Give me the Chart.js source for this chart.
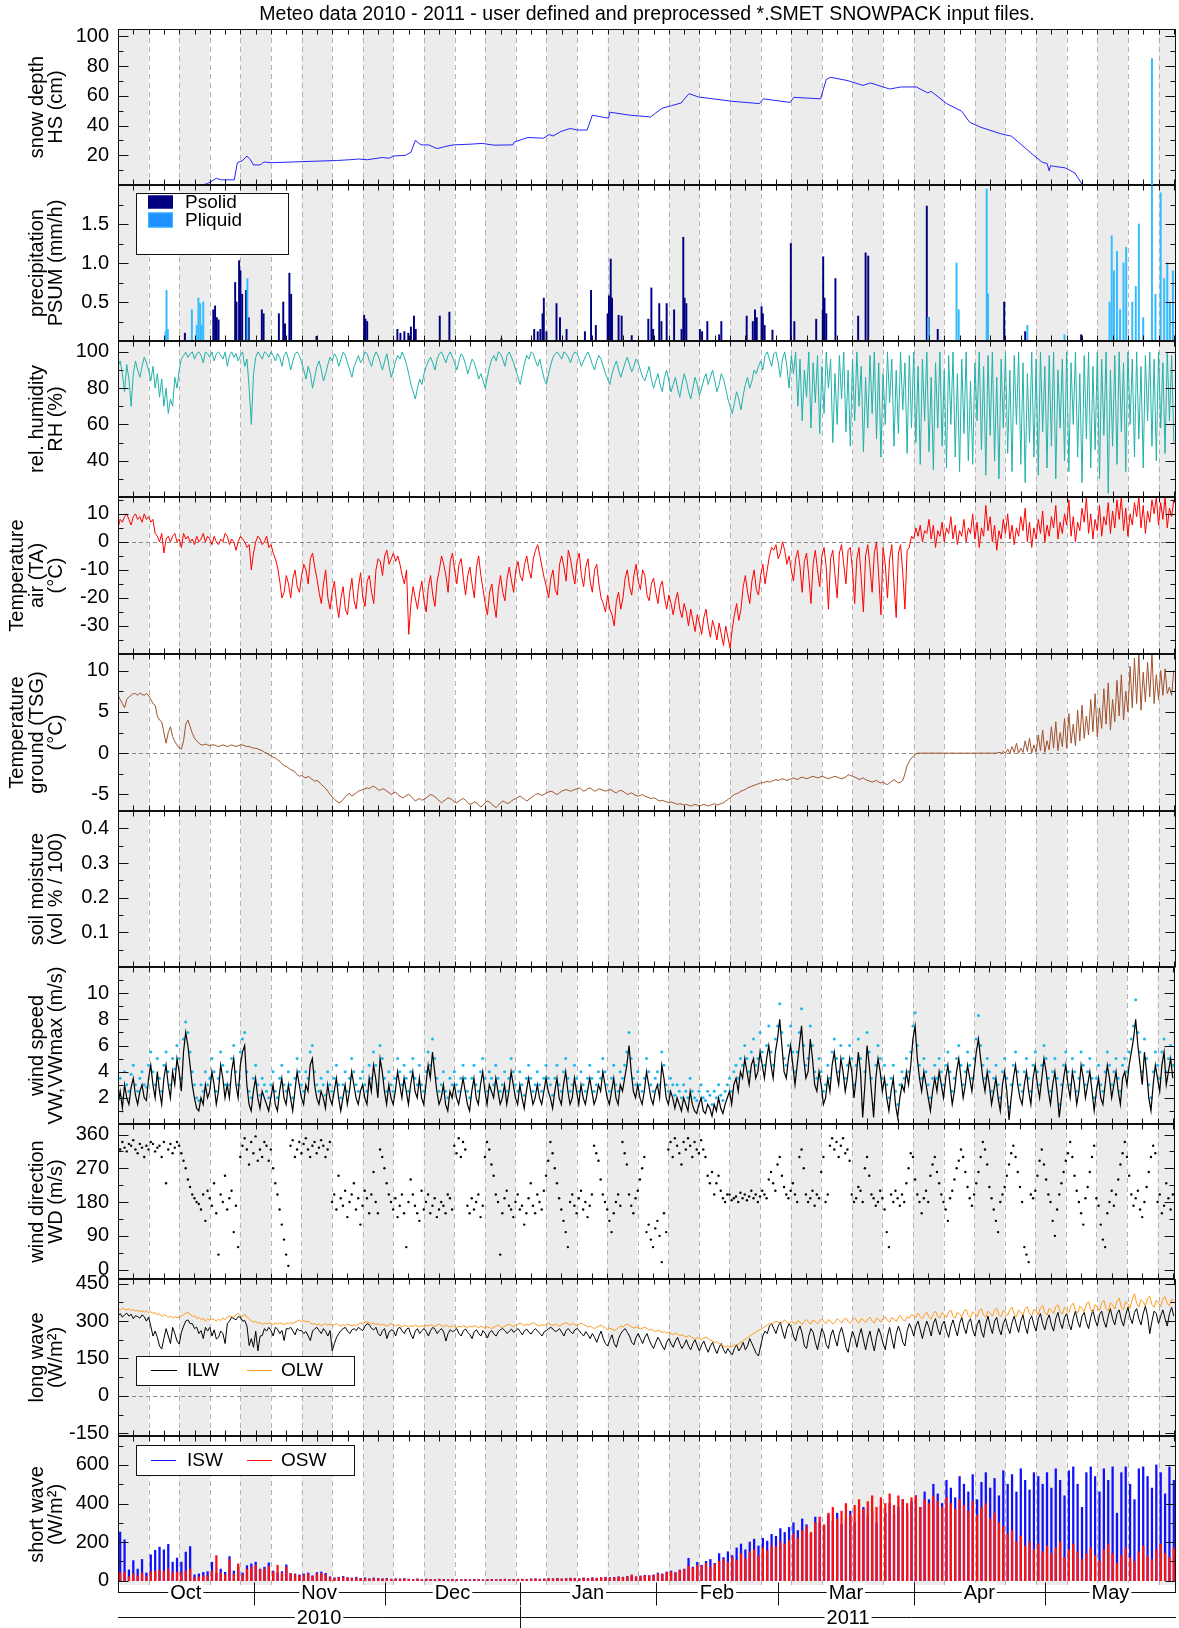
<!DOCTYPE html>
<html>
<head>
<meta charset="utf-8">
<title>Meteo data 2010 - 2011</title>
<script src="https://cdn.jsdelivr.net/npm/chart.js@4"></script>
<style>
  body { margin: 0; background: #ffffff; }
  #wrap { position: relative; width: 1179px; height: 1628px; }
  #wrap canvas { position: absolute; left: 0; top: 0; }
</style>
</head>
<body>
<div id="wrap"></div>
<script>
// Time axis: days since 1 Oct 2010, half-day samples for the hourly-ish series
const DAY_MAX = 242;
const HALF_DAY = 0.5;
const MONTHS = ['Oct', 'Nov', 'Dec', 'Jan', 'Feb', 'Mar', 'Apr', 'May'];
const MONTH_STARTS = [0, 31, 61, 92, 123, 151, 182, 212, 242];
const YEARS = ['2010', '2011'];
const YEAR_STARTS = [0, 92, 242];
const TITLE = 'Meteo data 2010 - 2011 - user defined and preprocessed *.SMET SNOWPACK input files.';

// Snow depth HS (cm), breakpoints
const hsDay = [19.8, 20.5, 22.5, 23.5, 26.6, 27.3, 28.5, 29.5, 30.3, 31, 32.5, 33.4, 35, 40, 45, 50, 53, 55, 57, 60.5,
  62, 63, 65.8, 67, 68, 69.3, 71, 73, 75, 76.7, 80.7, 83.3, 86, 90.3, 90.7, 93.8, 97.3, 98.6, 99.5, 101.3,
  103.4, 105.2, 107.3, 108.5, 110.2, 112.2, 112.5, 117, 121.8, 123, 124.4, 126.6, 128.8, 130.6, 132.8, 140.6, 146.7, 147.6, 153.7, 154.6,
  160.7, 162, 163, 167, 170.4, 172.1, 176.5, 179.1, 182.6, 185.2, 186, 189.6, 193, 194.8, 197.4, 201.8, 204.4, 208.8, 211.4, 212.5,
  213, 213.3, 214, 216.7, 218.9, 220.6];
const hsCm = [0.5, 1, 4.5, 3.5, 3.5, 15, 16.5, 19.5, 17, 13.5, 13.5, 15.5, 15, 15.5, 16, 16.5, 17, 17.5, 17, 18.5,
  18, 19.5, 20, 22, 30, 27, 27, 24.5, 26, 27, 27.5, 28, 26.8, 27, 29, 32, 31.5, 34, 33, 36,
  38, 37, 37, 47, 46, 45, 49, 47, 45.8, 48.5, 51.6, 53.4, 55.2, 61.5, 59.2, 56.3, 54.8, 58, 55.6, 59,
  58, 71, 72.5, 70.2, 67, 68.7, 64.6, 66, 66, 62, 63, 54.7, 49.6, 42.2, 38.8, 34.6, 32.8, 21.6, 15.3, 14.5,
  9.5, 13, 12.6, 11.5, 8, 0];

// Precipitation PSUM (mm/h)
const psolidDay = [15.3, 21.8, 22.2, 22.6, 23.0, 26.8, 27.1, 27.7, 28.0, 28.4, 29.3, 29.9, 32.9, 33.3, 36.8, 37.8, 38.2, 39.2, 39.6, 45.4,
  56.3, 56.6, 57.0, 63.9, 64.6, 65.5, 66.4, 67.0, 67.7, 68.1, 73.6, 75.8, 87.7, 95.2, 96.0, 96.6, 97.1, 97.4, 98.0, 100.3,
  101.1, 102.6, 106.8, 108.2, 109.3, 112.0, 112.3, 112.7, 113.0, 114.5, 115.2, 117.5, 121.3, 122.0, 122.4, 123.8, 124.3, 125.5, 127.2, 128.9,
  129.3, 129.6, 130.0, 133.1, 133.6, 134.8, 137.5, 138.0, 143.8, 145.2, 145.7, 146.1, 147.2, 147.5, 147.9, 149.7, 153.9, 154.7, 159.7, 161.2,
  161.3, 161.6, 162.0, 164.1, 169.3, 171.0, 171.6, 185.0, 185.4, 187.5, 198.9, 202.7, 207.5, 220.3];
const psolidMm = [0.1, 0.4, 0.45, 0.3, 0.27, 0.75, 0.5, 1.03, 0.9, 0.6, 0.65, 0.3, 0.4, 0.35, 0.35, 0.5, 0.22, 0.87, 0.6, 0.06,
  0.33, 0.28, 0.25, 0.15, 0.1, 0.12, 0.1, 0.18, 0.32, 0.15, 0.32, 0.37, 0.03, 0.15, 0.12, 0.15, 0.35, 0.55, 0.12, 0.48,
  0.3, 0.15, 0.12, 0.65, 0.2, 0.35, 0.58, 1.05, 0.55, 0.33, 0.32, 0.07, 0.28, 0.68, 0.15, 0.48, 0.25, 0.48, 0.4, 0.15,
  1.33, 0.55, 0.48, 0.15, 0.12, 0.25, 0.08, 0.25, 0.32, 0.25, 0.4, 0.3, 0.44, 0.35, 0.2, 0.14, 1.25, 0.25, 0.28, 0.4,
  1.08, 0.55, 0.35, 0.8, 0.32, 1.13, 1.09, 1.73, 0.3, 0.15, 0.6, 0.5, 0.12, 0.08];
const pliquidDay = [10.9, 11.1, 11.4, 16.9, 18.0, 18.4, 18.8, 19.1, 19.5, 29.6, 185.3, 191.8, 192.3, 198.7, 199.0, 208.0, 216.5, 226.8, 227.3, 227.8,
  228.5, 229.2, 230.0, 230.6, 232.0, 232.8, 233.5, 234.5, 236.5, 237.3, 238.5, 239.3, 240.0, 240.6, 241.3];
const pliquidMm = [0.12, 0.65, 0.15, 0.4, 0.2, 0.55, 0.48, 0.2, 0.5, 0.8, 0.3, 1.0, 0.4, 1.95, 0.6, 0.2, 0.08, 0.5, 1.35, 0.9,
  1.15, 0.4, 1.0, 1.2, 0.5, 0.7, 1.5, 0.3, 3.62, 0.6, 1.9, 0.8, 1.0, 0.5, 0.9];

// Relative humidity RH (%), every half day
const rhPct = [
  92, 95, 88, 78, 93, 85, 70, 88, 95, 90, 86, 92, 97, 94,
  90, 84, 92, 80, 88, 75, 85, 70, 80, 66, 74, 70, 86, 80,
  90, 96, 98, 100, 97, 99, 100, 96, 99, 100, 98, 94, 100, 99,
  97, 100, 95, 99, 100, 98, 96, 100, 92, 98, 100, 97, 99, 95,
  98, 100, 92, 96, 80, 60, 88, 97, 100, 98, 96, 100, 99, 97,
  100, 98, 95, 99, 97, 92, 98, 100, 96, 90, 95, 99, 100, 98,
  94, 90, 85, 92, 88, 80, 86, 92, 95, 90, 84, 88, 93, 97,
  95, 99, 97, 92, 96, 100, 98, 94, 90, 86, 92, 95, 98, 94,
  96, 100, 99, 95, 92, 97, 100, 98, 94, 90, 95, 99, 92, 86,
  90, 95, 98, 96, 100, 97, 93, 88, 82, 78, 74, 80, 85, 82,
  88, 92, 95, 97, 94, 90, 96, 99, 100, 97, 94, 98, 100, 97,
  94, 90, 95, 99, 97, 93, 88, 92, 96, 94, 90, 85, 88, 84,
  80, 86, 92, 96, 98, 95, 100, 99, 96, 92, 98, 100, 97, 94,
  90, 86, 82, 88, 94, 98, 96, 100, 99, 95, 92, 96, 90, 85,
  82, 88, 93, 97, 99, 100, 98, 96, 100, 99, 97, 94, 98, 100,
  99, 96, 92, 95, 98, 100, 97, 93, 90, 95, 98, 96, 92, 88,
  85, 82, 88, 92, 95, 90, 86, 90, 94, 97, 93, 89, 92, 96,
  94, 90, 86, 84, 88, 92, 85, 80, 84, 88, 82, 78, 86, 90,
  84, 78, 82, 86, 80, 75, 82, 88, 84, 78, 74, 80, 86, 82,
  76, 80, 85, 88, 82, 86, 90, 84, 78, 82, 88, 85, 80, 74,
  70, 66, 72, 78, 74, 68, 76, 82, 86, 80, 84, 90, 88, 92,
  95, 90, 98, 100, 96, 92, 99, 100, 94, 86, 96, 100, 92, 80,
  98, 88, 100, 70, 96, 62, 90, 75, 100, 58, 94, 72, 98, 55,
  92, 66, 100, 80, 96, 50, 88, 60, 98, 74, 100, 56, 90, 48,
  96, 62, 100, 70, 92, 45, 86, 58, 98, 66, 100, 52, 94, 42,
  88, 60, 100, 72, 96, 48, 90, 55, 100, 68, 94, 44, 98, 58,
  100, 50, 92, 38, 96, 62, 100, 45, 86, 35, 94, 58, 100, 48,
  90, 36, 98, 60, 100, 42, 88, 34, 96, 55, 100, 40, 84, 38,
  94, 62, 100, 46, 92, 32, 98, 54, 100, 40, 86, 30, 96, 58,
  100, 44, 90, 34, 98, 60, 100, 38, 94, 28, 88, 50, 100, 42,
  96, 32, 100, 56, 92, 36, 98, 48, 100, 30, 90, 58, 96, 40,
  100, 34, 94, 60, 100, 42, 88, 28, 98, 52, 100, 36, 92, 46,
  100, 30, 96, 54, 100, 22, 90, 48, 98, 38, 100, 56, 94, 34,
  100, 60, 96, 42, 100, 52, 92, 36, 98, 62, 100, 48, 96, 40,
  100, 58, 94, 44, 100, 62, 98, 50
];

// Air temperature TA (deg C), every half day
const taC = [
  5, 8, 7, 9, 10, 8, 6, 9, 10, 8, 9, 7, 10, 8,
  9, 7, 8, 3, 2, 0, 3, -4, 1, 2, 0, 2, 3, 0,
  1, -2, 3, 1, 2, 0, 1, -1, 2, 0, 1, 3, 0, 2,
  1, -1, 2, 0, -1, 1, 0, 3, 2, -1, 1, 0, -3, 0,
  2, 1, 0, -2, -1, -10, -4, 0, 2, 1, -1, 0, 2, -2,
  -1, -4, -6, -9, -14, -20, -18, -12, -15, -20, -13, -10, -16, -18,
  -12, -8, -10, -15, -6, -4, -9, -13, -18, -22, -15, -10, -20, -24,
  -18, -14, -22, -27, -20, -16, -24, -26, -18, -13, -21, -24, -16, -11,
  -20, -23, -14, -12, -18, -22, -10, -6, -7, -12, -5, -3, -8, -6,
  -4, -7, -5, -8, -12, -15, -10, -33, -22, -16, -20, -24, -18, -14,
  -21, -25, -16, -12, -19, -23, -14, -10, -5, -8, -12, -18, -7, -4,
  -10, -15, -8, -6, -13, -19, -12, -9, -15, -20, -9, -5, -12, -17,
  -22, -26, -18, -15, -22, -27, -17, -12, -18, -21, -13, -9, -14, -18,
  -10, -7, -12, -14, -8, -5, -10, -13, -6, -3, -1, -5, -9, -13,
  -16, -20, -13, -10, -17, -19, -8, -5, -9, -14, -3, -6, -11, -15,
  -7, -4, -12, -16, -9, -6, -14, -18, -10, -8, -15, -20, -22, -25,
  -19, -24, -26, -30, -21, -18, -24, -20, -13, -10, -16, -19, -12, -8,
  -14, -17, -10, -12, -19, -21, -15, -13, -18, -22, -16, -14, -20, -24,
  -19, -22, -26, -21, -18, -24, -27, -22, -25, -30, -24, -28, -32, -26,
  -29, -33, -27, -24, -30, -34, -28, -31, -35, -29, -33, -37, -30, -34,
  -38, -31, -26, -22, -28, -24, -16, -12, -18, -22, -14, -10, -17, -19,
  -12, -8, -15, -10, -5, -2, -3, -1, -6, -4, 0, -3, -8, -5,
  -10, -14, -6, -3, -9, -18, -7, -4, -12, -22, -8, -3, -10, -16,
  -5, -2, -9, -24, -6, -3, -12, -20, -4, -1, -8, -15, -3, -2,
  -10, -22, -6, -2, -13, -25, -5, -1, -9, -18, -4, 0, -12, -26,
  -2, -8, -20, -6, -1, -15, -27, -4, -1, -11, -24, -3, -2, 2,
  1, 5, 2, 6, 0, 4, 3, 8, 1, 6, -2, 4, 2, 7,
  0, 5, 3, 9, 1, 6, -1, 4, 2, 8, 0, 5, 3, 10,
  1, 7, -2, 5, 2, 13, 4, 9, 0, 6, -3, 4, 1, 8,
  3, 10, 1, 6, -1, 5, 2, 9, 4, 12, 0, 7, -2, 5,
  1, 8, 3, 11, 0, 6, 2, 9, 5, 13, 1, 7, 3, 10,
  6, 15, 2, 9, 0, 7, 4, 12, 7, 16, 3, 10, 1, 8,
  4, 13, 2, 9, 6, 14, 3, 11, 5, 15, 8, 16, 4, 12,
  2, 10, 6, 14, 9, 16, 5, 13, 3, 11, 7, 15, 10, 16,
  6, 14, 8, 16, 5, 12, 9, 15
];

// Ground temperature TSG (deg C), every half day
const tsgC = [
  7, 6.5, 6, 5.5, 6.5, 6.8, 7, 7.2, 7.2, 7, 7.3, 7.1, 7, 7.2,
  7, 6.5, 6, 5.8, 4.5, 4, 3.8, 2.5, 1.2, 2.5, 3.2, 2, 1.4, 1,
  0.6, 0.5, 1.5, 3.5, 4, 3.2, 2.4, 1.8, 1.5, 1.2, 1, 1, 1.1, 1,
  0.9, 1, 1, 0.9, 0.8, 0.9, 1, 0.9, 0.8, 0.9, 1, 0.9, 0.8, 0.9,
  1, 1, 0.9, 0.8, 0.8, 0.7, 0.6, 0.6, 0.5, 0.4, 0.3, 0.1, 0, -0.2,
  -0.3, -0.5, -0.6, -0.8, -1, -1.3, -1.5, -1.6, -1.8, -2, -2.1, -2.3, -2.6, -2.8,
  -2.7, -2.9, -3, -2.8, -3, -3.2, -3.4, -3.3, -3.5, -3.8, -4, -4.3, -4.6, -5,
  -5.3, -5.6, -5.8, -6, -5.9, -5.6, -5.3, -5, -4.9, -5.2, -5, -4.8, -4.6, -4.5,
  -4.4, -4.3, -4.2, -4.3, -4.1, -4, -4.2, -4.4, -4.5, -4.3, -4.4, -4.6, -4.8, -5,
  -4.8, -4.7, -5, -5.2, -5.4, -5.3, -5.1, -5, -5.2, -5.5, -5.8, -5.6, -5.5, -5.7,
  -5.6, -5.4, -5.2, -5, -5.1, -5.3, -5.5, -5.8, -6, -5.8, -5.6, -5.4, -5.5, -5.7,
  -5.9, -6, -5.8, -5.6, -5.5, -5.7, -6, -6.2, -6.1, -5.9, -6, -6.3, -6.5, -6.3,
  -6, -5.8, -5.9, -6.2, -6.4, -6.6, -6.3, -6, -5.8, -5.9, -6.1, -6, -5.8, -5.6,
  -5.5, -5.3, -5.2, -5.4, -5.6, -5.8, -5.6, -5.4, -5.2, -5, -4.9, -5, -5.1, -5,
  -4.8, -4.7, -4.6, -4.7, -4.9, -5, -4.8, -4.6, -4.5, -4.4, -4.5, -4.6, -4.5, -4.4,
  -4.3, -4.2, -4.4, -4.6, -4.5, -4.3, -4.2, -4.4, -4.6, -4.5, -4.3, -4.4, -4.5, -4.6,
  -4.5, -4.4, -4.5, -4.7, -4.8, -4.6, -4.5, -4.6, -4.8, -5, -4.9, -4.8, -5, -5.1,
  -5.2, -5.1, -5, -5.2, -5.3, -5.4, -5.5, -5.4, -5.5, -5.7, -5.8, -5.7, -5.8, -5.9,
  -6, -5.9, -6, -6.1, -6.2, -6.1, -6.2, -6.3, -6.2, -6.3, -6.4, -6.3, -6.2, -6.3,
  -6.4, -6.3, -6.2, -6.3, -6.4, -6.3, -6.2, -6.1, -6.3, -6.2, -6.1, -6, -5.8, -5.6,
  -5.4, -5.2, -5, -4.9, -4.8, -4.6, -4.5, -4.4, -4.2, -4.1, -4, -3.9, -3.8, -3.7,
  -3.6, -3.6, -3.5, -3.4, -3.5, -3.4, -3.3, -3.2, -3.3, -3.2, -3.1, -3.2, -3.3, -3.2,
  -3.1, -3, -3.1, -3.2, -3, -2.9, -3, -3.1, -3, -2.9, -2.8, -2.9, -3, -2.9,
  -2.8, -2.9, -3, -3.1, -3, -2.9, -2.8, -2.9, -3, -3.1, -3, -2.9, -2.6, -2.7,
  -2.8, -2.9, -3, -3.2, -3.1, -3, -3.2, -3.3, -3.4, -3.5, -3.4, -3.3, -3.5, -3.6,
  -3.5, -3.7, -3.8, -3.6, -3.4, -3.2, -3.4, -3.6, -3.5, -3.3, -2.5, -1.5, -1, -0.6,
  -0.3, -0.1, 0, 0, 0, 0, 0, 0, 0, 0, 0, 0, 0, 0,
  0, 0, 0, 0, 0, 0, 0, 0, 0, 0, 0, 0, 0, 0,
  0, 0, 0, 0, 0, 0, 0, 0, 0, 0, 0, 0.1, 0, 0.2,
  0, 0.5, 0, 0.8, 0.1, 1.2, 0, 0.6, 0.1, 1.5, 0.2, 1.8, 0, 1,
  0.1, 2.2, 0.3, 2.8, 0.1, 1.5, 0.4, 3.2, 0.6, 3.8, 0.3, 2.5, 0.8, 4.2,
  0.6, 4.8, 1.2, 3.5, 0.9, 5.2, 1.5, 5.8, 1.8, 4.5, 2.2, 6.5, 2.6, 7.2,
  2, 5.5, 3, 7.8, 3.5, 8.5, 2.8, 6.5, 3.8, 8.8, 4.5, 9.5, 4, 7.5,
  5, 10.5, 5.5, 11.5, 6, 12, 5.2, 9.8, 6.2, 11, 6.8, 12, 6, 9.5,
  6.5, 10, 7, 10.2, 7.2, 8, 7, 10
];

// Wind speed VW and gusts VWmax (m/s), every half day
const vwMs = [
  1.5, 2.5, 1.2, 3, 2, 1.5, 2.8, 3.5, 2.2, 1.5, 2.5, 3, 2, 1.8,
  3.5, 4.5, 3, 2, 4, 2.5, 1.5, 3.5, 4.5, 3, 2, 4, 3, 5,
  4, 2.5, 5.5, 7, 6, 4.5, 3, 2, 1.2, 1, 2, 1.5, 3, 2,
  2.5, 4, 3, 1.5, 2.5, 4.5, 3.5, 2, 3, 2, 4, 5, 3, 2,
  4.5, 5.5, 6, 3, 1.5, 1, 2.5, 3.5, 2, 1.2, 2.5, 2, 1.5, 1,
  2, 3, 1.5, 1, 2.5, 3.5, 2, 1.5, 3, 2, 1, 2.5, 4, 3,
  2, 1.5, 3, 2.5, 4.5, 5, 3, 2, 1.5, 2.5, 2, 1.2, 3, 2,
  1.5, 2.5, 3.5, 2, 1, 2, 3, 1.5, 2.5, 4, 3, 2, 1.5, 2.5,
  3, 2, 1.5, 3.5, 2.5, 4.5, 3.5, 2, 5, 4, 2.5, 1.5, 3, 2,
  1.5, 2.5, 4, 3, 2, 3.5, 2.5, 1.5, 3, 4, 2.5, 2, 3.5, 2,
  1.5, 3, 4.5, 3.5, 5.5, 4, 2.5, 1.5, 2, 3, 1.5, 1, 2.5, 2,
  3, 2, 1.5, 2.5, 3.5, 2.5, 1.5, 1, 2.5, 3.5, 2, 1.5, 3, 4,
  2.5, 1.5, 3, 2.5, 2, 3.5, 2.5, 1.5, 2, 3, 1.5, 2.5, 4, 3,
  2, 1.5, 3, 2, 1.2, 2.5, 3.5, 2.5, 1.5, 2, 3, 2, 1.5, 2.5,
  3.5, 2.5, 2, 1.2, 2.5, 3.5, 2, 1.5, 3, 4, 2.5, 1.5, 2, 3.5,
  2.5, 1.5, 3, 2, 1.5, 2.5, 3.5, 2.5, 1.5, 2, 3, 2.5, 4, 3,
  2, 1.5, 2.5, 3.5, 2, 1.5, 3, 2.5, 3.5, 4.5, 6, 4, 2.5, 2,
  3, 2, 1.5, 2.5, 4, 3, 2, 1.5, 2.5, 3, 2, 4.5, 3.5, 2,
  1.5, 2.5, 2, 1.2, 2, 1.5, 1, 2, 1.5, 1, 2.5, 1.5, 1, 0.8,
  1.5, 2, 1, 0.8, 1.5, 1.2, 0.6, 1.5, 1, 2, 1.2, 0.8, 1.5, 2,
  2.5, 1.5, 3, 3.5, 2.5, 4, 3.5, 5, 4, 3, 4.5, 5, 3.5, 4,
  5.5, 4.5, 3.5, 5, 6, 4.5, 3.5, 5.5, 6.5, 8, 6, 4, 3.5, 5,
  6, 4.5, 3, 4.5, 6, 7.5, 5, 3.5, 4, 6.5, 5, 3, 2.5, 4,
  3, 1.5, 2, 3.5, 2.5, 4.5, 5.5, 4, 3, 5, 4, 2.5, 3.5, 5,
  4, 2, 3.5, 5.5, 4, 0.5, 3, 6, 4.5, 2.5, 0.5, 3.5, 5, 4,
  2.5, 3.5, 2, 1, 2.5, 3.5, 1.5, 0.5, 2, 3, 2.5, 4, 3, 4.5,
  6.5, 7.5, 5, 3.5, 2.5, 4, 3, 2, 1, 2.5, 3.5, 2.5, 4, 3,
  2, 3.5, 4.5, 3, 1.5, 2.5, 4, 5, 3.5, 2, 3, 4.5, 3.5, 2.5,
  4, 5.5, 6.5, 5, 3.5, 2.5, 4, 3, 1.5, 2.5, 3.5, 2, 1, 3,
  4, 2.5, 0.3, 2, 3.5, 4.5, 3, 2, 1.5, 3, 4, 2.5, 1.5, 3.5,
  4.5, 3, 2, 3.5, 5, 4, 2.5, 1.5, 3, 4, 2.5, 0.5, 2, 3.5,
  4.5, 3, 2, 4, 3, 1.5, 2.5, 4.5, 3.5, 2, 3, 4, 2.5, 1,
  2.5, 3.5, 2, 1.5, 3, 4.5, 3.5, 2, 3, 4, 2.5, 1.5, 3.5, 4,
  3, 4.5, 5.5, 6.5, 8, 6, 4.5, 3, 5.5, 4, 2, 1, 3, 4.5,
  3.5, 2.5, 4.5, 5.5, 3, 4, 5, 3.5
];
const vwMaxMs = [
  2.5, 3.5, 2, 4, 3, 2.5, 3.8, 4.5, 3, 2.5, 3.5, 4, 3, 2.8,
  4.5, 5.5, 4, 3, 5, 3.5, 2.5, 4.5, 5.5, 4, 3, 5, 4.2, 6,
  5, 3.5, 6.5, 7.8, 7, 5.5, 4, 3, 2, 1.8, 3, 2.5, 4, 3,
  3.5, 5, 4, 2.5, 3.5, 5.5, 4.5, 3, 4, 3, 5, 6, 4, 3,
  5.5, 6.5, 7, 4, 2.5, 2, 3.5, 4.5, 3, 2.2, 3.5, 3, 2.5, 2,
  3, 4, 2.5, 2, 3.5, 4.5, 3, 2.5, 4, 3, 2, 3.5, 5, 4,
  3, 2.5, 4, 3.5, 5.5, 6, 4, 3, 2.5, 3.5, 3, 2.2, 4, 3,
  2.5, 3.5, 4.5, 3, 2, 3, 4, 2.5, 3.5, 5, 4, 3, 2.5, 3.5,
  4, 3, 2.5, 4.5, 3.5, 5.5, 4.5, 3, 6, 5, 3.5, 2.5, 4, 3,
  2.5, 3.5, 5, 4, 3, 4.5, 3.5, 2.5, 4, 5, 3.5, 3, 4.5, 3,
  2.5, 4, 5.5, 4.5, 6.5, 5, 3.5, 2.5, 3, 4, 2.5, 2, 3.5, 3,
  4, 3, 2.5, 3.5, 4.5, 3.5, 2.5, 2, 3.5, 4.5, 3, 2.5, 4, 5,
  3.5, 2.5, 4, 3.5, 3, 4.5, 3.5, 2.5, 3, 4, 2.5, 3.5, 5, 4,
  3, 2.5, 4, 3, 2.2, 3.5, 4.5, 3.5, 2.5, 3, 4, 3, 2.5, 3.5,
  4.5, 3.5, 3, 2.2, 3.5, 4.5, 3, 2.5, 4, 5, 3.5, 2.5, 3, 4.5,
  3.5, 2.5, 4, 3, 2.5, 3.5, 4.5, 3.5, 2.5, 3, 4, 3.5, 5, 4,
  3, 2.5, 3.5, 4.5, 3, 2.5, 4, 3.5, 4.5, 5.5, 7, 5, 3.5, 3,
  4, 3, 2.5, 3.5, 5, 4, 3, 2.5, 3.5, 4, 3, 5.5, 4.5, 3,
  2.5, 3.5, 3, 2.2, 3, 2.5, 2, 3, 2.5, 2, 3.5, 2.5, 2, 1.8,
  2.5, 3, 2, 1.8, 2.5, 2.2, 1.5, 2.5, 2, 3, 2.2, 1.8, 2.5, 3,
  3.5, 2.5, 4, 4.5, 3.5, 5, 4.5, 6, 5, 4, 5.5, 6.5, 4.5, 5,
  7, 5.5, 4.5, 6, 7.5, 5.5, 4.5, 6.5, 7.5, 9.2, 7, 5, 4.5, 6,
  7.5, 5.5, 4, 5.5, 7, 8.8, 6, 4.5, 5, 7.5, 6, 4, 3.5, 5,
  4, 2.5, 3, 4.5, 3.5, 5.5, 6.5, 5, 4, 6, 5, 3.5, 4.5, 6,
  5, 3, 4.5, 6.5, 5, 1.5, 4, 7, 5.5, 3.5, 1.5, 4.5, 6, 5,
  3.5, 4.5, 3, 2, 3.5, 4.5, 2.5, 1.5, 3, 4, 3.5, 5, 4, 5.5,
  7.5, 8.5, 6, 4.5, 3.5, 5, 4, 3, 2, 3.5, 4.5, 3.5, 5, 4,
  3, 4.5, 5.5, 4, 2.5, 3.5, 5, 6, 4.5, 3, 4, 5.5, 4.5, 3.5,
  5, 6.5, 8.3, 6, 4.5, 3.5, 5, 4, 2.5, 3.5, 4.5, 3, 2, 4,
  5, 3.5, 1.3, 3, 4.5, 5.5, 4, 3, 2.5, 4, 5, 3.5, 2.5, 4.5,
  5.5, 4, 3, 4.5, 6, 5, 3.5, 2.5, 4, 5, 3.5, 1.5, 3, 4.5,
  5.5, 4, 3, 5, 4, 2.5, 3.5, 5.5, 4.5, 3, 4, 5, 3.5, 2,
  3.5, 4.5, 3, 2.5, 4, 5.5, 4.5, 3, 4, 5, 3.5, 2.5, 4.5, 5,
  4, 5.5, 6.5, 7.5, 9.5, 7, 5.5, 4, 6.5, 5, 3, 2, 4, 5.5,
  4.5, 3.5, 5.5, 6.5, 4, 5, 6, 4.5
];

// Wind direction WD (deg), every half day
const dwDeg = [
  330, 320, 340, 325, 315, 335, 330, 345, 320, 310, 335, 325, 300, 330,
  320, 340, 335, 315, 325, 330, 300, 340, 230, 320, 335, 310, 325, 340,
  330, 310, 290, 270, 240, 220, 200, 190, 180, 175, 160, 200, 130, 210,
  190, 170, 230, 150, 40, 200, 180, 250, 160, 190, 210, 100, 170, 60,
  300, 330, 350, 320, 280, 340, 310, 355, 290, 320, 300, 340, 330, 290,
  320, 270, 230, 200, 160, 120, 80, 40, 10, 330, 345, 300, 320, 340,
  310, 335, 350, 320, 300, 330, 340, 310, 325, 345, 330, 300, 320, 340,
  180, 200, 160, 250, 190, 170, 210, 140, 180, 200, 230, 160, 190, 120,
  170, 210, 190, 150, 200, 260, 180, 150, 320, 300, 270, 230, 200, 180,
  160, 190, 140, 170, 200, 150, 60, 180, 240, 200, 170, 150, 130, 210,
  160, 180, 200, 150, 170, 190, 140, 160, 180, 170, 150, 200, 190, 160,
  330, 310, 350, 300, 340, 320, 170, 150, 190, 160, 180, 200, 140, 170,
  300, 340, 320, 280, 250, 200, 180, 40, 150, 190, 210, 170, 160, 140,
  180, 200, 160, 170, 120, 150, 190, 230, 170, 150, 200, 180, 160, 210,
  250, 290, 340, 310, 270, 230, 190, 160, 130, 100, 60, 180, 200, 170,
  150, 190, 210, 160, 180, 140, 170, 200, 330, 310, 290, 240, 200, 180,
  160, 130, 100, 150, 180, 200, 170, 340, 310, 280, 200, 170, 150, 190,
  210, 240, 270, 300, 100, 120, 80, 60, 110, 130, 90, 20, 150, 100,
  320, 340, 300, 350, 330, 310, 280, 340, 320, 350, 330, 300, 340, 320,
  310, 345, 320, 300, 250, 230, 260, 200, 230, 250, 210, 190, 180, 200,
  200, 185, 190, 195, 180, 205, 190, 200, 185, 195, 210, 190, 200, 180,
  195, 210, 200, 190, 240, 260, 230, 210, 280, 300, 250, 220, 200, 190,
  210, 230, 200, 180, 300, 320, 270, 200, 180, 190, 210, 170, 200, 190,
  260, 300, 180, 200, 330, 350, 320, 340, 300, 330, 350, 310, 320, 290,
  200, 180, 190, 220, 210, 180, 270, 300, 250, 200, 190, 170, 180, 210,
  190, 160, 100, 60, 200, 180, 210, 190, 170, 200, 180, 230, 270, 310,
  300, 240, 200, 180, 150, 190, 210, 180, 250, 280, 300, 260, 230, 200,
  180, 160, 130, 190, 210, 240, 270, 290, 320, 300, 260, 220, 190, 170,
  200, 230, 260, 300, 340, 320, 280, 220, 190, 160, 130, 100, 180, 200,
  220, 250, 280, 310, 330, 300, 260, 220, 180, 60, 40, 20, 200, 190,
  210, 250, 290, 320, 280, 240, 200, 180, 130, 90, 160, 200, 230, 260,
  290, 310, 340, 300, 250, 210, 180, 150, 120, 190, 220, 260, 300, 330,
  190, 170, 120, 80, 60, 150, 180, 210, 170, 200, 240, 280, 310, 340,
  300, 250, 200, 170, 190, 210, 160, 140, 180, 220, 260, 300, 330, 310,
  180, 200, 150, 170, 230, 190, 160, 200
];

// Incoming / outgoing long wave radiation (W/m2), every half day
const ilwWm2 = [
  320, 330, 316, 325, 332, 320, 328, 310, 322, 318, 312, 325, 318, 300,
  316, 280, 240, 260, 235, 200, 188, 230, 270, 240, 210, 275, 250, 220,
  208, 255, 280, 300, 305, 290, 290, 270, 276, 250, 262, 230, 275, 260,
  275, 240, 265, 228, 235, 260, 250, 210, 290, 300, 316, 310, 305, 318,
  316, 300, 302, 280, 202, 230, 195, 260, 181, 240, 242, 270, 260, 275,
  262, 240, 275, 268, 250, 262, 222, 270, 269, 275, 260, 245, 270, 262,
  262, 250, 258, 240, 222, 260, 269, 275, 262, 250, 270, 258, 240, 262,
  181, 210, 235, 250, 262, 270, 275, 260, 250, 265, 270, 262, 275, 268,
  262, 280, 290, 285, 270, 265, 275, 250, 240, 262, 270, 230, 255, 265,
  262, 240, 270, 275, 260, 250, 268, 272, 245, 230, 260, 270, 250, 262,
  270, 258, 240, 262, 275, 268, 250, 262, 270, 256, 220, 250, 265, 258,
  262, 270, 250, 240, 262, 268, 255, 245, 230, 258, 265, 250, 240, 262,
  250, 232, 255, 262, 248, 240, 258, 266, 270, 262, 250, 260, 268, 255,
  262, 270, 258, 245, 262, 268, 255, 248, 262, 270, 260, 250, 240, 258,
  262, 270, 275, 268, 258, 262, 270, 255, 240, 262, 270, 258, 250, 265,
  270, 262, 250, 240, 258, 245, 230, 250, 235, 215, 240, 260, 230, 210,
  200, 225, 245, 210, 195, 230, 250, 262, 270, 255, 240, 215, 205, 235,
  250, 230, 210, 235, 250, 225, 205, 190, 215, 235, 220, 200, 185, 215,
  230, 210, 195, 220, 235, 210, 190, 205, 225, 200, 185, 210, 225, 200,
  180, 205, 220, 195, 175, 200, 215, 190, 170, 195, 210, 185, 170, 190,
  175, 165, 190, 205, 180, 195, 215, 185, 200, 230, 210, 190, 170, 160,
  200, 240, 260, 250, 280, 290, 270, 250, 280, 295, 260, 230, 270, 290,
  275, 240, 220, 260, 280, 250, 200, 190, 240, 270, 255, 215, 185, 230,
  270, 250, 205, 190, 240, 265, 230, 200, 250, 275, 240, 195, 175, 220,
  260, 235, 195, 240, 270, 225, 185, 230, 260, 215, 180, 235, 270, 245,
  210, 185, 240, 275, 230, 190, 250, 280, 255, 215, 200, 260, 290, 270,
  240, 280, 300, 265, 230, 270, 300, 275, 240, 290, 310, 270, 245, 285,
  300, 260, 235, 280, 305, 270, 240, 290, 315, 275, 250, 295, 310, 265,
  240, 285, 305, 260, 235, 290, 320, 280, 250, 300, 315, 270, 245, 290,
  310, 275, 250, 295, 320, 285, 255, 300, 325, 280, 250, 305, 320, 285,
  260, 310, 330, 290, 265, 305, 325, 285, 260, 310, 335, 295, 270, 315,
  330, 290, 265, 310, 340, 300, 275, 320, 335, 295, 270, 315, 345, 305,
  280, 325, 340, 300, 275, 320, 350, 310, 285, 330, 345, 305, 280, 325,
  355, 315, 290, 335, 350, 310, 285, 330, 360, 320, 250, 300, 340, 330,
  290, 320, 345, 310, 280, 330, 355, 320
];
const olwWm2 = [
  350, 345, 352, 348, 345, 350, 342, 346, 340, 344, 338, 342, 336, 340,
  334, 338, 330, 335, 325, 330, 318, 326, 322, 315, 320, 312, 318, 314,
  316, 320, 326, 332, 334, 328, 318, 322, 310, 316, 306, 312, 300, 308,
  304, 310, 306, 300, 308, 302, 312, 306, 316, 320, 318, 314, 326, 330,
  322, 318, 328, 316, 310, 302, 296, 300, 290, 296, 286, 292, 288, 294,
  290, 286, 292, 288, 294, 290, 286, 292, 288, 294, 290, 296, 300, 304,
  298, 302, 296, 300, 292, 288, 290, 284, 288, 282, 286, 290, 284, 288,
  282, 286, 290, 284, 280, 286, 282, 288, 284, 280, 286, 282, 288, 292,
  290, 296, 298, 294, 288, 292, 286, 290, 282, 288, 284, 280, 286, 290,
  284, 280, 286, 282, 278, 284, 280, 276, 282, 278, 284, 280, 276, 282,
  278, 284, 280, 286, 282, 278, 284, 288, 282, 278, 284, 280, 276, 282,
  278, 274, 280, 276, 282, 278, 274, 280, 276, 282, 278, 274, 280, 276,
  272, 278, 274, 270, 276, 280, 284, 278, 274, 280, 284, 288, 282, 278,
  284, 288, 292, 286, 282, 288, 284, 290, 294, 288, 284, 280, 286, 282,
  288, 292, 286, 282, 288, 284, 280, 286, 290, 294, 288, 284, 290, 286,
  282, 288, 292, 286, 282, 276, 280, 274, 270, 276, 280, 284, 278, 272,
  266, 272, 268, 262, 268, 274, 280, 276, 284, 288, 282, 276, 272, 278,
  274, 268, 272, 276, 270, 264, 268, 262, 258, 264, 260, 254, 258, 252,
  256, 250, 246, 252, 248, 242, 246, 240, 236, 242, 238, 232, 228, 234,
  230, 226, 232, 236, 230, 224, 220, 214, 218, 210, 206, 200, 196, 202,
  194, 200, 206, 198, 210, 216, 222, 228, 234, 240, 246, 252, 258, 262,
  266, 272, 278, 284, 290, 286, 294, 300, 296, 290, 298, 304, 296, 290,
  300, 294, 288, 302, 296, 286, 300, 306, 294, 288, 304, 298, 290, 302,
  308, 296, 290, 306, 300, 288, 296, 310, 302, 292, 306, 312, 298, 290,
  304, 314, 300, 292, 310, 304, 294, 308, 316, 300, 292, 312, 306, 296,
  310, 318, 302, 296, 314, 308, 298, 316, 322, 306, 300, 318, 312, 326,
  322, 314, 332, 318, 310, 326, 336, 316, 308, 330, 340, 318, 312, 334,
  326, 314, 338, 344, 320, 312, 336, 328, 316, 340, 346, 322, 314, 338,
  330, 318, 342, 350, 324, 316, 340, 332, 320, 344, 352, 326, 318, 342,
  334, 322, 346, 356, 328, 318, 344, 336, 324, 350, 358, 330, 322, 348,
  340, 326, 354, 362, 334, 324, 352, 344, 330, 358, 366, 338, 328, 356,
  346, 334, 362, 372, 342, 332, 360, 352, 338, 368, 378, 346, 336, 366,
  356, 342, 372, 384, 350, 340, 374, 364, 348, 380, 392, 356, 346, 378,
  370, 352, 388, 410, 372, 356, 386, 378, 360, 392, 400, 366, 356, 384,
  372, 358, 390, 398, 370, 362, 388, 380
];

// Daily peak incoming / outgoing short wave radiation (W/m2)
const iswWm2 = [
  252, 212, 56, 104, 60, 110, 40, 134, 157, 174, 160, 188, 96, 117, 96, 148, 177, 30, 35, 43, 47, 96, 38, 60, 43, 125, 50, 70, 40, 78, 87,
  96, 60, 70, 92, 50, 40, 47, 82, 38, 35, 30, 35, 40, 25, 42, 45, 38, 20, 15, 18, 22, 16, 14, 18, 12, 15, 10, 14, 12, 10,
  12, 8, 10, 9, 11, 8, 7, 9, 6, 8, 7, 6, 8, 6, 5, 7, 6, 5, 6, 5, 7, 6, 5, 6, 7, 5, 6, 8, 6, 7, 8,
  8, 7, 9, 10, 8, 9, 11, 10, 12, 9, 11, 13, 12, 10, 14, 12, 15, 13, 16, 18, 15, 17, 20, 18, 22, 25, 20, 24, 28, 26, 30,
  40, 35, 45, 50, 42, 55, 60, 116, 70, 95, 80, 100, 110, 90, 140, 120, 150, 130, 170, 190, 160, 200, 215, 180, 220, 205, 240, 230,
  270, 250, 276, 300, 260, 320, 290, 240, 330, 300, 280, 340, 310, 350, 290, 320, 360, 300, 340, 380, 330, 360, 300, 390, 350, 400, 340, 380, 420, 360, 410,
  440, 380, 460, 420, 500, 450, 400, 520, 480, 430, 540, 500, 460, 550, 420, 510, 560, 480, 530, 440, 570, 500, 550, 460, 580, 520, 470, 560, 540, 500,
  560, 480, 580, 520, 440, 570, 590, 500, 380, 560, 590, 540, 460, 580, 520, 590, 350, 560, 590, 500, 420, 580, 590, 540, 480, 600, 560, 450, 590, 520
];
const oswWm2 = [
  40, 45, 20, 35, 25, 40, 20, 45, 50, 55, 50, 60, 40, 45, 40, 50, 60, 15, 20, 25, 25, 50, 130, 40, 30, 110, 35, 87, 30, 60, 70,
  80, 56, 60, 75, 45, 80, 40, 70, 38, 30, 25, 30, 35, 22, 35, 38, 30, 18, 12, 15, 18, 14, 12, 15, 10, 12, 8, 12, 10, 8,
  10, 7, 8, 8, 9, 7, 6, 8, 5, 7, 6, 5, 7, 5, 4, 6, 5, 4, 5, 4, 6, 5, 4, 5, 6, 4, 5, 7, 5, 6, 7,
  7, 6, 8, 9, 7, 8, 10, 9, 11, 8, 10, 12, 11, 9, 13, 11, 14, 12, 15, 17, 14, 16, 19, 17, 21, 30, 19, 23, 26, 25, 28,
  36, 32, 42, 46, 40, 52, 58, 75, 66, 80, 76, 90, 70, 85, 100, 110, 95, 120, 105, 140, 115, 150, 160, 130, 170, 155, 180, 175,
  200, 190, 210, 240, 220, 260, 280, 250, 300, 330, 290, 350, 380, 320, 360, 400, 340, 390, 420, 370, 410, 440, 380, 430, 400, 450, 390, 440, 420, 400, 430,
  440, 380, 420, 400, 440, 410, 380, 430, 400, 370, 420, 390, 360, 410, 340, 380, 400, 320, 350, 300, 280, 240, 260, 200, 230, 180, 200, 160, 190, 150,
  180, 140, 170, 200, 120, 160, 190, 150, 110, 140, 170, 130, 100, 160, 190, 140, 90, 130, 170, 120, 100, 150, 180, 130, 110, 160, 190, 140, 120, 170
];

// Labelled y ticks per panel
const hsTicks = [20, 40, 60, 80, 100];
const psumTicks = [0.5, 1.0, 1.5];
const rhTicks = [40, 60, 80, 100];
const taTicks = [-30, -20, -10, 0, 10];
const tsgTicks = [-5, 0, 5, 10];
const vwcTicks = [0.1, 0.2, 0.3, 0.4];
const vwTicks = [2, 4, 6, 8, 10];
const dwTicks = [0, 90, 180, 270, 360];
const lwTicks = [-150, 0, 150, 300, 450];
const swTicks = [0, 200, 400, 600];

const THEME = {
  text: '#000000',
  frame: '#111111',
  band: '#ececec',
  week: '#b4b4b4',
  zero: '#8a8a8a',
  hs: '#2424ff',
  psolid: '#000080',
  pliquid: '#1e90ff',
  pliquidEdge: '#33bbff',
  rh: '#20b2aa',
  ta: '#ff0000',
  tsg: '#a0522d',
  vw: '#000000',
  vwmax: '#1ab8f0',
  dw: '#000000',
  ilw: '#000000',
  olw: '#ff9a1a',
  isw: '#1010ff',
  osw: '#ff1010'
};

const FONT = "'Liberation Sans', Arial, Helvetica, sans-serif";
const FONT_SIZE = 20;
const PAGE_W = 1179;
const PAGE_H = 1628;
const PLOT_LEFT = 118;
const PLOT_RIGHT = 1176;

Chart.defaults.font.family = FONT;
Chart.defaults.font.size = FONT_SIZE;
Chart.defaults.color = THEME.text;

// Vertical layout of the stacked panels (page pixels)
const P = {
  hs:   { top: 29,   bottom: 185,  min: 0,    max: 105,  ticks: hsTicks,   minor: 10,   dec: 0, title: ['snow depth', 'HS (cm)'] },
  psum: { top: 185,  bottom: 341,  min: 0,    max: 2,    ticks: psumTicks, minor: 0.25, dec: 1, title: ['precipitation', 'PSUM (mm/h)'] },
  rh:   { top: 341,  bottom: 497,  min: 20,   max: 106,  ticks: rhTicks,   minor: 10,   dec: 0, title: ['rel. humidity', 'RH (%)'] },
  ta:   { top: 497,  bottom: 654,  min: -40,  max: 16,   ticks: taTicks,   minor: 5,    dec: 0, title: ['Temperature', 'air (TA)', '(°C)'], zero: true },
  tsg:  { top: 654,  bottom: 811,  min: -7,   max: 12,   ticks: tsgTicks,  minor: 2.5,  dec: 0, title: ['Temperature', 'ground (TSG)', '(°C)'], zero: true },
  vwc:  { top: 811,  bottom: 967,  min: 0,    max: 0.45, ticks: vwcTicks,  minor: 0.05, dec: 1, title: ['soil moisture', '(vol % / 100)'] },
  vw:   { top: 967,  bottom: 1124, min: 0,    max: 12,   ticks: vwTicks,   minor: 1,    dec: 0, title: ['wind speed', 'VW,VWmax (m/s)'] },
  dw:   { top: 1124, bottom: 1279, min: -25,  max: 388,  ticks: dwTicks,   minor: 45,   dec: 0, title: ['wind direction', 'WD (m/s)'] },
  lw:   { top: 1279, bottom: 1436, min: -161, max: 469,  ticks: lwTicks,   minor: 75,   dec: 0, title: ['long wave', '(W/m²)'], zero: true },
  sw:   { top: 1436, bottom: 1593, min: -64,  max: 750,  ticks: swTicks,   minor: 100,  dec: 0, title: ['short wave', '(W/m²)'], bandInset: 8 }
};

const PSUM_LEGEND = {
  box: [136, 193, 288, 254],
  items: [
    { kind: 'rect', color: THEME.psolid, edge: THEME.psolid, x0: 148, x1: 173, y: 202, h: 13, label: 'Psolid', tx: 185 },
    { kind: 'rect', color: THEME.pliquid, edge: THEME.pliquidEdge, x0: 148, x1: 173, y: 220, h: 15, label: 'Pliquid', tx: 185 }
  ]
};
const LW_LEGEND = {
  box: [136, 1356, 354, 1385],
  items: [
    { kind: 'line', color: THEME.ilw, x0: 151, x1: 177, y: 1370, label: 'ILW', tx: 187 },
    { kind: 'line', color: THEME.olw, x0: 247, x1: 272, y: 1370, label: 'OLW', tx: 281 }
  ]
};
const SW_LEGEND = {
  box: [136, 1445, 354, 1475],
  items: [
    { kind: 'line', color: THEME.isw, x0: 151, x1: 176, y: 1460, label: 'ISW', tx: 187 },
    { kind: 'line', color: THEME.osw, x0: 247, x1: 272, y: 1460, label: 'OSW', tx: 281 }
  ]
};

const halfDaily = vals => vals.map((v, i) => ({ x: i * HALF_DAY, y: v }));
const daily = vals => vals.map((v, i) => ({ x: i + 0.5, y: v }));
const paired = (days, vals) => days.map((d, i) => ({ x: d, y: vals[i] }));

function lineSet(data, color, width) {
  return { type: 'line', data: data, borderColor: color, borderWidth: width || 1, pointRadius: 0, tension: 0, fill: false };
}

function dotSet(data, color, radius) {
  return { type: 'line', data: data, showLine: false, pointRadius: radius, pointBorderWidth: 0,
    pointBackgroundColor: color, backgroundColor: color, borderColor: color };
}

function barSet(data, color, thickness, extra) {
  return Object.assign({ type: 'bar', data: data, backgroundColor: color, borderWidth: 0,
    barThickness: thickness, grouped: false }, extra || {});
}

/**
 * Alternating week bands, dashed week separators and the optional zero line
 */
function drawBands(chart, panel) {
  const { ctx, chartArea: a, scales: { x, y } } = chart;
  const bottom = a.bottom - (panel.bandInset || 0);
  ctx.save();
  ctx.beginPath();
  ctx.rect(a.left, a.top, a.right - a.left, a.bottom - a.top);
  ctx.clip();
  ctx.fillStyle = THEME.band;
  for (let d = 0; d < DAY_MAX; d += 14) {
    const x0 = x.getPixelForValue(d);
    const x1 = x.getPixelForValue(Math.min(d + 7, DAY_MAX));
    ctx.fillRect(x0, a.top, x1 - x0, bottom - a.top);
  }
  ctx.strokeStyle = THEME.week;
  ctx.lineWidth = 1;
  ctx.setLineDash([5, 4]);
  for (let d = 7; d < DAY_MAX; d += 7) {
    const px = Math.round(x.getPixelForValue(d)) + 0.5;
    ctx.beginPath();
    ctx.moveTo(px, a.top);
    ctx.lineTo(px, bottom);
    ctx.stroke();
  }
  if (panel.zero) {
    const py = Math.round(y.getPixelForValue(0)) + 0.5;
    ctx.strokeStyle = THEME.zero;
    ctx.setLineDash([4, 3]);
    ctx.beginPath();
    ctx.moveTo(a.left, py);
    ctx.lineTo(a.right, py);
    ctx.stroke();
  }
  ctx.restore();
}

/**
 * Panel frame with inward ticks on all four sides
 */
function drawFrame(chart, panel, last) {
  const { ctx, chartArea: a, scales: { x, y } } = chart;
  const L = Math.round(a.left) + 0.5;
  const R = Math.round(a.right) - 0.5;
  const T = Math.round(a.top) + 0.5;
  const B = Math.round(a.bottom) - 0.5;
  ctx.save();
  ctx.strokeStyle = THEME.frame;
  ctx.lineWidth = 1;
  ctx.setLineDash([]);
  ctx.strokeRect(L, T, R - L, B - T);
  ctx.beginPath();
  const k0 = Math.ceil(panel.min / panel.minor - 1e-9);
  for (let k = k0; k * panel.minor <= panel.max + 1e-9; k++) {
    const v = k * panel.minor;
    const major = panel.ticks.some(t => Math.abs(t - v) < 1e-6);
    const len = major ? 10 : 5;
    const py = Math.round(y.getPixelForValue(v)) + 0.5;
    ctx.moveTo(L, py); ctx.lineTo(L + len, py);
    ctx.moveTo(R, py); ctx.lineTo(R - len, py);
  }
  for (let d = 3.5; d < DAY_MAX; d += 3.5) {
    const px = Math.round(x.getPixelForValue(d)) + 0.5;
    ctx.moveTo(px, T); ctx.lineTo(px, T + 5);
    if (!last) { ctx.moveTo(px, B); ctx.lineTo(px, B - 5); }
  }
  ctx.stroke();
  ctx.restore();
}

function drawLegend(ctx, lg) {
  const [x0, y0, x1, y1] = lg.box;
  ctx.save();
  ctx.fillStyle = '#ffffff';
  ctx.fillRect(x0, y0, x1 - x0, y1 - y0);
  ctx.strokeStyle = THEME.frame;
  ctx.lineWidth = 1;
  ctx.strokeRect(x0 + 0.5, y0 + 0.5, x1 - x0, y1 - y0);
  ctx.font = '19px ' + FONT;
  ctx.textBaseline = 'middle';
  ctx.textAlign = 'left';
  lg.items.forEach(it => {
    if (it.kind === 'rect') {
      ctx.fillStyle = it.color;
      ctx.fillRect(it.x0, it.y - it.h / 2, it.x1 - it.x0, it.h);
      ctx.strokeStyle = it.edge;
      ctx.strokeRect(it.x0 + 0.5, it.y - it.h / 2 + 0.5, it.x1 - it.x0 - 1, it.h - 1);
    } else {
      ctx.strokeStyle = it.color;
      ctx.beginPath();
      ctx.moveTo(it.x0, it.y + 0.5);
      ctx.lineTo(it.x1, it.y + 0.5);
      ctx.stroke();
    }
    ctx.fillStyle = THEME.text;
    ctx.fillText(it.label, it.tx, it.y + 1);
  });
  ctx.restore();
}

/**
 * Month and year rows under the last panel
 */
function drawTimeAxis(chart) {
  const { ctx, chartArea: a, scales: { x } } = chart;
  const yMonth = Math.round(a.bottom) - 0.5;
  const yYear = 1617.5;
  ctx.save();
  ctx.strokeStyle = THEME.frame;
  ctx.lineWidth = 1;
  ctx.beginPath();
  ctx.moveTo(a.left, yYear);
  ctx.lineTo(a.right, yYear);
  MONTH_STARTS.slice(1, -1).forEach(d => {
    const px = Math.round(x.getPixelForValue(d)) + 0.5;
    ctx.moveTo(px, yMonth - 10);
    ctx.lineTo(px, yMonth + 13);
  });
  YEAR_STARTS.slice(1, -1).forEach(d => {
    const px = Math.round(x.getPixelForValue(d)) + 0.5;
    ctx.moveTo(px, yYear - 11);
    ctx.lineTo(px, PAGE_H);
  });
  ctx.stroke();

  ctx.font = FONT_SIZE + 'px ' + FONT;
  ctx.textAlign = 'center';
  ctx.textBaseline = 'middle';
  const label = (text, d0, d1, yy) => {
    const cx = (x.getPixelForValue(d0) + x.getPixelForValue(d1)) / 2;
    const w = ctx.measureText(text).width;
    ctx.fillStyle = '#ffffff';
    ctx.fillRect(cx - w / 2 - 2, yy - 10, w + 4, 20);
    ctx.fillStyle = THEME.text;
    ctx.fillText(text, cx, yy + 1);
  };
  MONTHS.forEach((m, i) => label(m, MONTH_STARTS[i], MONTH_STARTS[i + 1], yMonth));
  YEARS.forEach((yr, i) => label(yr, YEAR_STARTS[i], YEAR_STARTS[i + 1], yYear));
  ctx.restore();
}

function drawTitle(chart, text) {
  const { ctx, chartArea: a } = chart;
  ctx.save();
  ctx.font = '19.5px ' + FONT;
  ctx.fillStyle = THEME.text;
  ctx.textAlign = 'center';
  ctx.textBaseline = 'middle';
  ctx.fillText(text, (a.left + a.right) / 2, 15);
  ctx.restore();
}

function newCanvas() {
  const c = document.createElement('canvas');
  c.width = PAGE_W;
  c.height = PAGE_H;
  document.getElementById('wrap').appendChild(c);
  return c.getContext('2d');
}

/**
 * One stacked panel: its own full-page canvas, chart area placed by layout padding
 */
function createPanel(panel, type, datasets, extra) {
  extra = extra || {};
  const lines = panel.title.length;
  return new Chart(newCanvas(), {
    type: type,
    data: { datasets: datasets },
    options: {
      responsive: false,
      animation: false,
      devicePixelRatio: 1,
      events: [],
      layout: { padding: { top: panel.top, bottom: PAGE_H - panel.bottom, left: 0, right: PAGE_W - PLOT_RIGHT } },
      plugins: { legend: { display: false }, tooltip: { enabled: false } },
      scales: {
        x: { type: 'linear', min: 0, max: DAY_MAX, display: false, offset: false },
        y: {
          type: 'linear',
          position: 'left',
          min: panel.min,
          max: panel.max,
          afterFit: s => { s.width = PLOT_LEFT; },
          afterBuildTicks: s => { s.ticks = panel.ticks.map(v => ({ value: v })); },
          grid: { display: false, drawTicks: false },
          border: { display: false },
          ticks: {
            autoSkip: false,
            padding: 9,
            color: THEME.text,
            font: { size: FONT_SIZE },
            callback: v => Number(v).toFixed(panel.dec)
          },
          title: {
            display: true,
            text: panel.title,
            color: THEME.text,
            font: { size: FONT_SIZE, lineHeight: 0.975 },
            padding: { top: 56.5 - (lines - 0.5) * 19.5, bottom: 0 }
          }
        }
      }
    },
    plugins: [{
      id: 'panelDecor',
      beforeDatasetsDraw(chart) { drawBands(chart, panel); },
      afterDatasetsDraw(chart) { if (extra.legend) drawLegend(chart.ctx, extra.legend); },
      afterDraw(chart) {
        drawFrame(chart, panel, !!extra.months);
        if (extra.months) drawTimeAxis(chart);
        if (extra.title) drawTitle(chart, extra.title);
      }
    }]
  });
}

createPanel(P.hs, 'line', [lineSet(paired(hsDay, hsCm), THEME.hs)], { title: TITLE });

createPanel(P.psum, 'bar', [
  barSet(paired(pliquidDay, pliquidMm), THEME.pliquidEdge, 1.3, { clip: { left: 0, top: false, right: 0, bottom: 0 } }),
  barSet(paired(psolidDay, psolidMm), THEME.psolid, 1.3)
], { legend: PSUM_LEGEND });

createPanel(P.rh, 'line', [lineSet(halfDaily(rhPct), THEME.rh)]);
createPanel(P.ta, 'line', [lineSet(halfDaily(taC), THEME.ta)]);
createPanel(P.tsg, 'line', [lineSet(halfDaily(tsgC), THEME.tsg)]);
createPanel(P.vwc, 'line', []);

createPanel(P.vw, 'line', [
  lineSet(halfDaily(vwMs), THEME.vw, 1.2),
  dotSet(halfDaily(vwMaxMs), THEME.vwmax, 1.5)
]);

createPanel(P.dw, 'line', [dotSet(halfDaily(dwDeg), THEME.dw, 1.2)]);

createPanel(P.lw, 'line', [
  lineSet(halfDaily(olwWm2), THEME.olw),
  lineSet(halfDaily(ilwWm2), THEME.ilw)
], { legend: LW_LEGEND });

createPanel(P.sw, 'bar', [
  barSet(daily(oswWm2), THEME.osw, 1.6),
  barSet(daily(iswWm2), THEME.isw, 1.6)
], { legend: SW_LEGEND, months: true });
</script>
</body>
</html>
